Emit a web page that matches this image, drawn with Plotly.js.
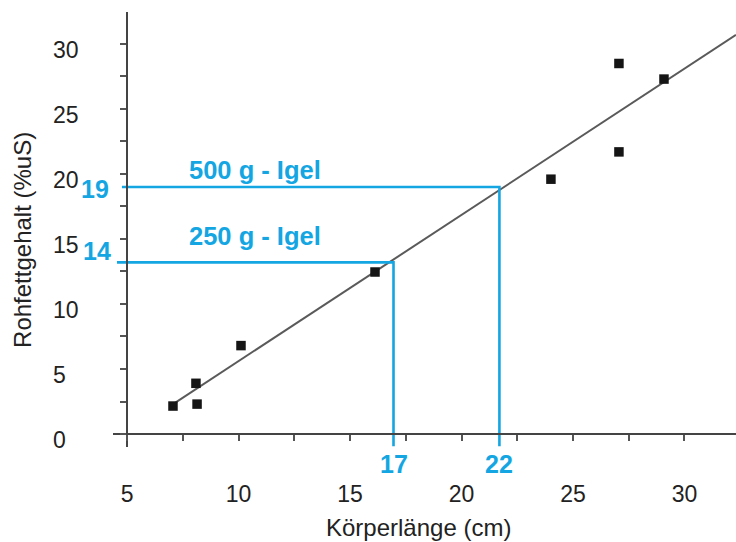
<!DOCTYPE html>
<html>
<head>
<meta charset="utf-8">
<script src="https://cdn.plot.ly/plotly-3.0.1.min.js"></script>
<style>html,body{margin:0;padding:0;background:#fff;}#chart{width:736px;height:542px;}</style>
</head>
<body>
<div id="chart"></div>
<script>
// ---- data ----
const bodyLength = [7.06, 8.14, 8.09, 10.11, 16.12, 24.01, 27.06, 27.06, 29.08];
const fatContent = [2.15, 2.3, 3.9, 6.8, 12.46, 19.6, 21.7, 28.5, 27.3];
const fitX = [7.15, 32.31];
const fitY = [2.4, 30.7];
const guideX = [16.95, 21.7];          // drawn positions of the reading lines
const guideY = [13.2, 19.0];
const guideXLabels = ['17', '22'];
const guideYLabels = ['14', '19'];
const guideNames = ['250 g - Igel', '500 g - Igel'];
const xTickVals = [5, 10, 15, 20, 25, 30];
const xTickText = ['5', '10', '15', '20', '25', '30'];
const yTickVals = [0, 5, 10, 15, 20, 25, 30];
const yTickText = ['0', '5', '10', '15', '20', '25', '30'];
const xTitle = 'Körperlänge (cm)';
const yTitle = 'Rohfettgehalt (%uS)';

// ---- styling ----
const BLUE = '#14a6e2';
const FONT = 'Liberation Sans, Arial, sans-serif';
const xRange = [4.37, 32.31];
const yRange = [-1.0, 32.46];
const guideBottom = -0.95;
const guideLeft = [4.55, 4.77];

const traces = [];
// regression line
traces.push({x: fitX, y: fitY, mode: 'lines', line: {color: '#5a5a5a', width: 2}, hoverinfo: 'skip'});
// guide lines
for (let i = 0; i < guideX.length; i++) {
  traces.push({
    x: [guideLeft[i], guideX[i], guideX[i]],
    y: [guideY[i], guideY[i], guideBottom],
    mode: 'lines', line: {color: BLUE, width: 2.6}, hoverinfo: 'skip'
  });
}
// data points
traces.push({x: bodyLength, y: fatContent, mode: 'markers',
  marker: {symbol: 'square', size: 9.5, color: '#151515'}});

const annotations = [];
// y tick labels (left aligned as in reference)
yTickVals.forEach((v, i) => annotations.push({
  xref: 'paper', yref: 'y', x: 0, y: v, xanchor: 'left', yanchor: 'middle',
  xshift: -62, yshift: -6, showarrow: false, text: yTickText[i],
  font: {family: FONT, size: 23, color: '#222'}
}));
// blue labels
guideX.forEach((v, i) => annotations.push({
  xref: 'x', yref: 'paper', x: v, y: 0, xanchor: 'center', yanchor: 'middle',
  yshift: -17, showarrow: false, text: '<b>' + guideXLabels[i] + '</b>',
  font: {family: FONT, size: 25, color: BLUE}
}));
const yLabShift = [11, -2];
const yLabX = [-16, -18];
guideY.forEach((v, i) => annotations.push({
  xref: 'paper', yref: 'y', x: 0, y: v, xanchor: 'center', yanchor: 'middle',
  xshift: yLabX[i], yshift: yLabShift[i], showarrow: false, text: '<b>' + guideYLabels[i] + '</b>',
  font: {family: FONT, size: 25, color: BLUE}
}));
const nameY = [15.23, 20.3];
guideNames.forEach((t, i) => annotations.push({
  xref: 'x', yref: 'y', x: 7.68, y: nameY[i], xanchor: 'left', yanchor: 'middle',
  showarrow: false, text: '<b>' + t + '</b>',
  font: {family: FONT, size: 25.5, color: BLUE}
}));
// axis titles
annotations.push({xref: 'paper', yref: 'paper', x: 0.4896, y: 0, yshift: -80,
  xanchor: 'center', yanchor: 'middle', showarrow: false, text: xTitle,
  font: {family: FONT, size: 24, color: '#222'}});
annotations.push({xref: 'paper', yref: 'paper', x: 0, y: 0.476, xshift: -90,
  xanchor: 'center', yanchor: 'middle', showarrow: false, text: yTitle, textangle: -90,
  font: {family: FONT, size: 24, color: '#222'}});

const layout = {
  width: 736, height: 542,
  margin: {l: 113, r: 0, t: 12, b: 95, pad: 0},
  paper_bgcolor: '#fff', plot_bgcolor: '#fff',
  showlegend: false,
  font: {family: FONT, size: 23, color: '#222'},
  xaxis: {
    range: xRange, anchor: 'free',
    position: (0 - yRange[0]) / (yRange[1] - yRange[0]),
    showgrid: false, zeroline: false,
    showline: true, linecolor: '#444', linewidth: 2.4,
    ticks: 'outside', ticklen: 6, tickwidth: 2, tickcolor: '#555',
    tickmode: 'array', tickvals: xTickVals, ticktext: xTickText,
    ticklabelstandoff: 33,
    tickfont: {family: FONT, size: 23, color: '#222'},
    minor: {dtick: 2.5, tick0: 5, ticks: 'outside', ticklen: 6, tickwidth: 2, tickcolor: '#555', showgrid: false}
  },
  yaxis: {
    range: yRange, anchor: 'free',
    position: (5 - xRange[0]) / (xRange[1] - xRange[0]),
    showgrid: false, zeroline: false,
    showline: true, linecolor: '#444', linewidth: 2.4,
    ticks: 'outside', ticklen: 6, tickwidth: 2, tickcolor: '#555',
    tickmode: 'array', tickvals: yTickVals, showticklabels: false,
    minor: {dtick: 2.5, tick0: 0, ticks: 'outside', ticklen: 6, tickwidth: 2, tickcolor: '#555', showgrid: false}
  },
  annotations: annotations
};

Plotly.newPlot('chart', traces, layout, {displayModeBar: false, staticPlot: true});
</script>
</body>
</html>
